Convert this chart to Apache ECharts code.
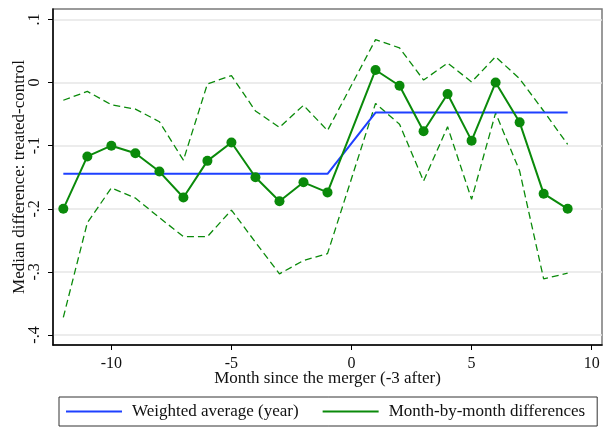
<!DOCTYPE html>
<html>
<head>
<meta charset="utf-8">
<script src="https://cdn.jsdelivr.net/npm/echarts@6/dist/echarts.min.js"></script>
<style>html,body{margin:0;padding:0;background:#fff;}#c{width:607px;height:429px;}</style>
</head>
<body>
<div id="c"></div>
<script>
const months = [-12,-11,-10,-9,-8,-7,-6,-5,-4,-3,-2,-1,1,2,3,4,5,6,7,8,9];
const monthly = [-0.200,-0.117,-0.100,-0.112,-0.141,-0.182,-0.124,-0.095,-0.150,-0.188,-0.158,-0.174,0.020,-0.005,-0.077,-0.018,-0.092,0.000,-0.063,-0.176,-0.200];
const upperCI = [-0.028,-0.014,-0.035,-0.042,-0.062,-0.123,-0.002,0.011,-0.045,-0.071,-0.036,-0.076,0.068,0.055,0.004,0.031,0.001,0.041,0.006,-0.045,-0.098];
const lowerCI = [-0.372,-0.222,-0.167,-0.183,-0.214,-0.244,-0.244,-0.202,-0.253,-0.303,-0.282,-0.271,-0.033,-0.066,-0.156,-0.070,-0.185,-0.048,-0.140,-0.311,-0.302];
const weighted = [-0.1445,-0.1445,-0.1445,-0.1445,-0.1445,-0.1445,-0.1445,-0.1445,-0.1445,-0.1445,-0.1445,-0.1445,-0.0475,-0.0475,-0.0475,-0.0475,-0.0475,-0.0475,-0.0475,-0.0475,-0.0475];
const xTicks = [-10,-5,0,5,10];
const yTicks = [-0.4,-0.3,-0.2,-0.1,0,0.1];
const yTickLabels = ['-.4','-.3','-.2','-.1','0','.1'];
const seriesNames = ['Weighted average (year)','Month-by-month differences'];
const xTitle = 'Month since the merger (-3 after)';
const yTitle = 'Median difference: treated-control';

const FONT = 'Liberation Serif';
const pair = arr => months.map((m,i)=>[m, arr[i]]);
const GREEN = '#0a8a0a', BLUE = '#1e40ff';

const chart = echarts.init(document.getElementById('c'), null, {renderer:'canvas'});
chart.setOption({
  animation: false,
  backgroundColor: '#fff',
  textStyle: {fontFamily: FONT},
  grid: {left: 53, right: 5, top: 9, bottom: 84, show: true, borderColor: '#7a7a7a', borderWidth: 1.5,
         containLabel: false, outerBoundsMode: 'none'},
  xAxis: {
    type: 'value', min: -12.43, max: 10.43,
    name: xTitle, nameLocation: 'middle', nameGap: 25, nameMoveOverlap: false,
    nameTextStyle: {fontFamily: FONT, fontSize: 17, color: '#111'},
    axisLine: {show: true, onZero: false, lineStyle: {color: '#000', width: 1.5}},
    axisTick: {show: true, length: 5, lineStyle: {color: '#000'}, customValues: xTicks},
    axisLabel: {fontFamily: FONT, fontSize: 16, color: '#111', margin: 11, customValues: xTicks},
    splitLine: {show: false}
  },
  yAxis: {
    type: 'value', min: -0.4158, max: 0.1166,
    name: yTitle, nameLocation: 'middle', nameGap: 25, nameRotate: 90, nameMoveOverlap: false,
    nameTextStyle: {fontFamily: FONT, fontSize: 17, color: '#111'},
    axisLine: {show: true, onZero: false, lineStyle: {color: '#000', width: 1.5}},
    axisTick: {show: true, length: 5, lineStyle: {color: '#000'}, customValues: yTicks},
    axisLabel: {fontFamily: FONT, fontSize: 16, color: '#111', margin: 10, rotate: 90, customValues: yTicks,
      formatter: v => { const i = yTicks.findIndex(t => Math.abs(t - v) < 1e-6); return i >= 0 ? yTickLabels[i] : ''; }},
    splitLine: {show: true, lineStyle: {color: '#e6e6e6', width: 1.5}}
  },
  legend: {
    data: [{name: seriesNames[0]}, {name: seriesNames[1]}],
    bottom: 3, left: 59,
    icon: 'rect', itemWidth: 56, itemHeight: 2, itemGap: 24,
    borderColor: '#333', borderWidth: 1, borderRadius: 0,
    padding: [6, 12, 6, 7],
    textStyle: {fontFamily: FONT, fontSize: 17, color: '#111', padding: [0, 0, 0, 5]}
  },
  series: [
    {name: 'upper', type: 'line', data: pair(upperCI), symbol: 'none', silent: true,
     lineStyle: {color: GREEN, width: 1.3, type: [7,4]}, z: 2},
    {name: 'lower', type: 'line', data: pair(lowerCI), symbol: 'none', silent: true,
     lineStyle: {color: GREEN, width: 1.3, type: [7,4]}, z: 2},
    {name: seriesNames[0], type: 'line', data: pair(weighted), symbol: 'none',
     itemStyle: {color: BLUE}, lineStyle: {color: BLUE, width: 2}, z: 3},
    {name: seriesNames[1], type: 'line', data: pair(monthly), symbol: 'circle', symbolSize: 10,
     itemStyle: {color: GREEN}, lineStyle: {color: GREEN, width: 2}, z: 4}
  ]
});
</script>
</body>
</html>
